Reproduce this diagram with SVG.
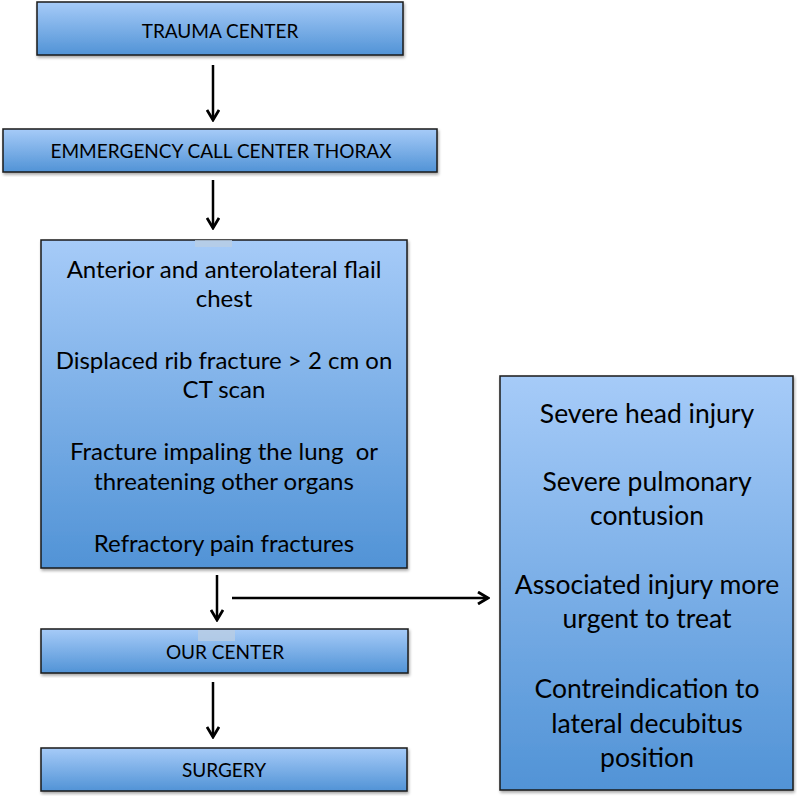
<svg xmlns="http://www.w3.org/2000/svg" width="797" height="797" viewBox="0 0 797 797">
<defs>
<linearGradient id="g" x1="0" y1="0" x2="0" y2="1">
<stop offset="0" stop-color="#a6cbf8"/>
<stop offset="1" stop-color="#5193d6"/>
</linearGradient>
<filter id="sh" x="-5%" y="-5%" width="110%" height="115%">
<feDropShadow dx="1" dy="2" stdDeviation="1.5" flood-color="#000" flood-opacity="0.35"/>
</filter>
<marker id="ah" viewBox="0 0 14 14" refX="12" refY="7" markerWidth="14" markerHeight="14" markerUnits="userSpaceOnUse" orient="auto">
<path d="M2,1 L12,7 L2,13" fill="none" stroke="#000" stroke-width="2.8"/>
</marker>
</defs>
<style>
.box{fill:url(#g);stroke:#1a1a1a;stroke-width:1.5;filter:url(#sh)}
.sm{font-family:Lato,"Open Sans",sans-serif;font-size:19px;fill:#000;text-anchor:middle}
.lg{font-family:Lato,"Open Sans",sans-serif;font-size:24px;fill:#000;text-anchor:middle}
.rt{font-family:Lato,"Open Sans",sans-serif;font-size:26.5px;fill:#000;text-anchor:middle}
.c{stroke:#000;stroke-width:2.5;fill:none;marker-end:url(#ah)}
.tab{fill:#b9cde4;opacity:0.8}
</style>
<g id="trauma-center">
<rect class="box" x="37" y="2" width="366" height="53"/>
<text class="sm" x="220" y="38">TRAUMA CENTER</text>
</g>
<g id="emergency-call-center">
<rect class="box" x="3" y="129" width="434" height="43"/>
<text class="sm" x="221" y="158">EMMERGENCY CALL CENTER THORAX</text>
</g>
<g id="criteria">
<rect class="box" x="41" y="240" width="366" height="328"/>
<rect class="tab" x="195" y="240" width="37" height="7"/>
<text class="lg" x="224" y="278">Anterior and anterolateral flail</text>
<text class="lg" x="224" y="307">chest</text>
<text class="lg" x="224" y="369">Displaced rib fracture &gt; 2 cm on</text>
<text class="lg" x="224" y="398">CT scan</text>
<text class="lg" x="224" y="460" xml:space="preserve">Fracture impaling the lung  or</text>
<text class="lg" x="224" y="490">threatening other organs</text>
<text class="lg" x="224" y="552">Refractory pain fractures</text>
</g>
<g id="contraindications">
<rect class="box" x="500" y="376" width="293" height="414"/>
<text class="rt" x="647" y="423">Severe head injury</text>
<text class="rt" x="647" y="491">Severe pulmonary</text>
<text class="rt" x="647" y="525">contusion</text>
<text class="rt" x="647" y="594">Associated injury more</text>
<text class="rt" x="647" y="628">urgent to treat</text>
<text class="rt" x="647" y="698">Contreindication to</text>
<text class="rt" x="647" y="733">lateral decubitus</text>
<text class="rt" x="647" y="767">position</text>
</g>
<g id="our-center">
<rect class="box" x="41" y="629" width="367" height="44"/>
<rect class="tab" x="198" y="630" width="37" height="11"/>
<text class="sm" x="225" y="659">OUR CENTER</text>
</g>
<g id="surgery">
<rect class="box" x="41" y="748" width="366" height="43"/>
<text class="sm" x="224" y="777">SURGERY</text>
</g>
<g id="connectors">
<line class="c" x1="213" y1="65" x2="213" y2="120"/>
<line class="c" x1="213" y1="180" x2="213" y2="228"/>
<line class="c" x1="217" y1="575" x2="217" y2="620"/>
<line class="c" x1="232" y1="598" x2="488" y2="598"/>
<line class="c" x1="213" y1="682" x2="213" y2="737"/>
</g>
</svg>
